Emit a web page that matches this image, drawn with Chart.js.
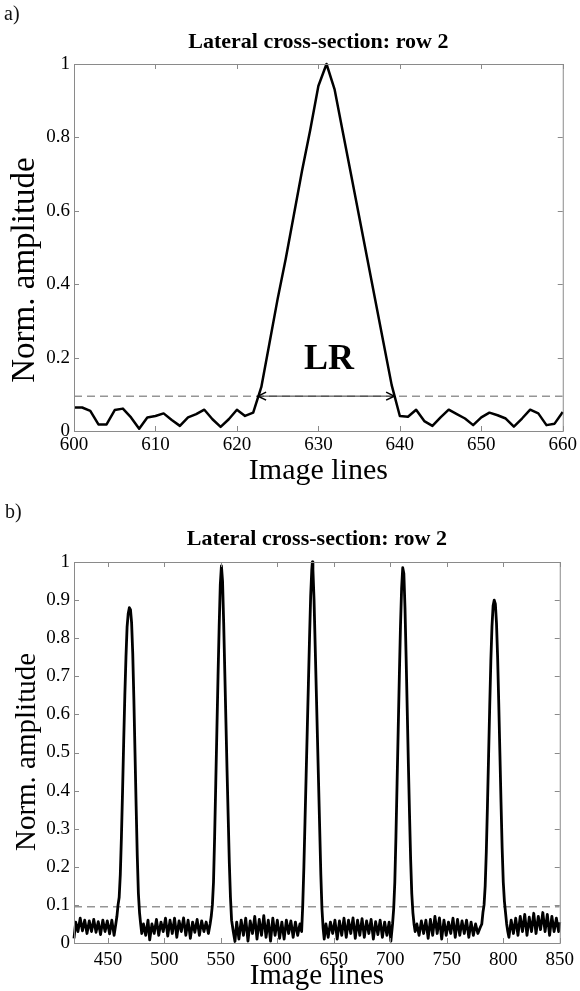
<!DOCTYPE html>
<html lang="en">
<head>
<meta charset="UTF-8">
<title>Lateral cross-section: row 2</title>
<script src="https://cdn.jsdelivr.net/npm/chart.js"></script>
<style>
  body { margin: 0; background: #fff; width: 580px; height: 991px; position: relative; overflow: hidden; font-family: "Liberation Serif", "Times New Roman", serif; }
  canvas { position: absolute; left: 0; }
  .panel-label { position: absolute; font-size: 20px; color: #111; line-height: 23px; }
</style>
</head>
<body>
<canvas id="chartA" width="580" height="491" style="top:0"></canvas>
<canvas id="chartB" width="580" height="500" style="top:491px"></canvas>
<div class="panel-label" style="left:4px; top:2px;">a)</div>
<div class="panel-label" style="left:5px; top:500px;">b)</div>

<script>
const serif = '"Liberation Serif", "Times New Roman", serif';
const chartTitle = 'Lateral cross-section: row 2';
const xTitle = 'Image lines';
const yTitle = 'Norm. amplitude';

// ---- panel a: one beam, lines 600..660 ----
const aLines = [600, 601, 602, 603, 604, 605, 606, 607, 608, 609,
                610, 611, 612, 613, 614, 615, 616, 617, 618, 619,
                620, 621, 622, 623, 624, 625, 626, 627, 628, 629,
                630, 631, 632, 633, 634, 635, 636, 637, 638, 639,
                640, 641, 642, 643, 644, 645, 646, 647, 648, 649,
                650, 651, 652, 653, 654, 655, 656, 657, 658, 659, 660];
const aAmp = [0.064, 0.064, 0.055, 0.018, 0.018, 0.057, 0.061, 0.037, 0.006, 0.037,
              0.041, 0.048, 0.030, 0.014, 0.037, 0.046, 0.058, 0.032, 0.011, 0.032,
              0.058, 0.041, 0.050, 0.120, 0.240, 0.360, 0.470, 0.590, 0.710, 0.820,
              0.940, 1.000, 0.930, 0.815, 0.700, 0.585, 0.470, 0.355, 0.240, 0.125,
              0.041, 0.039, 0.058, 0.027, 0.014, 0.037, 0.058, 0.046, 0.034, 0.016,
              0.037, 0.050, 0.043, 0.034, 0.012, 0.034, 0.058, 0.048, 0.016, 0.020, 0.052];
const aRange = [600, 660];
const aTicksX = 10;
const aTicksY = 0.2;

// -20 dB level and the lateral resolution marker
const threshold = 0.095;
const lrFrom = 622.6;
const lrTo = 639.3;
const lrText = 'LR';
const lrTextPos = [631.3, 0.195];

// ---- panel b: five beams, lines 420..850 ([line, amplitude]) ----
const bNoise1 = [[420, 0.012], [421.5, 0.055], [423.5, 0.03], [425.5, 0.065], [427.5, 0.032], [429.5, 0.06],
                 [431.5, 0.025], [433.5, 0.058], [435.5, 0.03], [437.5, 0.062], [439.5, 0.028], [441.5, 0.056],
                 [443.5, 0.022], [445.5, 0.06], [447.5, 0.03], [449.5, 0.058], [451.5, 0.024], [453.5, 0.06],
                 [455.5, 0.02], [457, 0.05]];
const bPeak1 = [[458, 0.07], [459, 0.1], [460, 0.12], [461, 0.18], [462, 0.28], [463, 0.4], [464, 0.53],
                [465, 0.65], [466, 0.75], [467, 0.83], [468, 0.865], [469, 0.88], [470, 0.875], [471, 0.84],
                [472, 0.76], [473, 0.64], [474, 0.5], [475, 0.36], [476, 0.23], [477, 0.13], [478, 0.08],
                [479, 0.05], [480, 0.025]];
const bNoise2 = [[481.5, 0.05], [483.5, 0.02], [485.5, 0.06], [487, 0.008], [489, 0.05], [491, 0.025],
                 [493, 0.062], [495, 0.02], [497, 0.055], [499, 0.03], [501, 0.065], [503, 0.018],
                 [505, 0.06], [507, 0.025], [509, 0.065], [511, 0.015], [513, 0.058], [515, 0.03],
                 [517, 0.066], [519, 0.02], [521, 0.06], [523, 0.012], [525, 0.055], [527, 0.028],
                 [529, 0.062], [531, 0.02], [533, 0.058], [535, 0.03], [537, 0.055], [539, 0.025], [540.5, 0.05]];
const bPeak2 = [[541.5, 0.07], [542.5, 0.1], [543.5, 0.16], [544.5, 0.28], [545.5, 0.42], [546.5, 0.56],
                [547.5, 0.7], [548.5, 0.83], [549.5, 0.94], [550.5, 0.99], [551.5, 0.95], [552.5, 0.84],
                [553.5, 0.71], [554.5, 0.58], [555.5, 0.45], [556.5, 0.33], [557.5, 0.21], [558.5, 0.12],
                [559.5, 0.06], [561, 0.03], [562.5, 0.004]];
const bNoise3 = [[564, 0.055], [566, 0.01], [568, 0.06], [570, 0.02], [572, 0.065], [574, 0.005],
                 [576, 0.058], [578, 0.025], [580, 0.07], [582, 0.01], [584, 0.062], [586, 0.02],
                 [588, 0.072], [590, 0.015], [592, 0.06], [594, 0.005], [596, 0.065], [598, 0.02],
                 [600, 0.06], [602, 0.012], [604, 0.055], [606, 0.01], [608, 0.06], [610, 0.025],
                 [612, 0.058], [614, 0.015], [616, 0.055], [618, 0.02], [620, 0.05], [621.5, 0.03]];
const bPeak3 = [[622.5, 0.1], [623.5, 0.2], [624.5, 0.32], [625.5, 0.44], [626.5, 0.56], [627.5, 0.68],
                [628.5, 0.8], [629.5, 0.91], [630.5, 0.98], [631, 1.0], [631.5, 0.98], [632.5, 0.9],
                [633.5, 0.78], [634.5, 0.66], [635.5, 0.54], [636.5, 0.42], [637.5, 0.3], [638.5, 0.18],
                [639.5, 0.09], [640.5, 0.04], [641.5, 0.01]];
const bNoise4 = [[643, 0.05], [645, 0.015], [647, 0.055], [649, 0.025], [651, 0.06], [653, 0.01],
                 [655, 0.058], [657, 0.02], [659, 0.065], [661, 0.015], [663, 0.06], [665, 0.025],
                 [667, 0.066], [669, 0.012], [671, 0.06], [673, 0.02], [675, 0.064], [677, 0.015],
                 [679, 0.058], [681, 0.025], [683, 0.062], [685, 0.01], [687, 0.056], [689, 0.022],
                 [691, 0.06], [693, 0.015], [695, 0.055], [697, 0.02], [699, 0.055], [700.5, 0.005]];
const bPeak4 = [[702, 0.05], [703, 0.09], [704, 0.16], [705, 0.28], [706, 0.42], [707, 0.56],
                [708, 0.7], [709, 0.83], [710, 0.93], [711, 0.985], [712, 0.97], [713, 0.88],
                [714, 0.75], [715, 0.61], [716, 0.47], [717, 0.34], [718, 0.22], [719, 0.13],
                [720, 0.08], [721, 0.05], [722, 0.03]];
const bNoise5 = [[723.5, 0.05], [725.5, 0.02], [727.5, 0.058], [729.5, 0.025], [731.5, 0.06], [733.5, 0.012],
                 [735.5, 0.062], [737.5, 0.02], [739.5, 0.07], [741.5, 0.025], [743.5, 0.066], [745.5, 0.01],
                 [747.5, 0.06], [749.5, 0.02], [751.5, 0.055], [753.5, 0.025], [755.5, 0.065], [757.5, 0.015],
                 [759.5, 0.062], [761.5, 0.02], [763.5, 0.058], [765.5, 0.025], [767.5, 0.06], [769.5, 0.015],
                 [771.5, 0.055], [773.5, 0.02], [775.5, 0.05], [777.5, 0.025], [779.5, 0.04], [781, 0.05]];
const bPeak5 = [[782, 0.08], [783, 0.1], [784, 0.15], [785, 0.24], [786, 0.36], [787, 0.49], [788, 0.62],
                [789, 0.74], [790, 0.83], [791, 0.885], [792, 0.9], [793, 0.89], [794, 0.84], [795, 0.75],
                [796, 0.63], [797, 0.5], [798, 0.37], [799, 0.25], [800, 0.16], [801, 0.11], [802, 0.08],
                [803, 0.05], [804, 0.03]];
const bNoise6 = [[805, 0.015], [807, 0.06], [809, 0.025], [811, 0.065], [813, 0.02], [815, 0.07],
                 [817, 0.03], [819, 0.075], [821, 0.02], [823, 0.068], [825, 0.03], [827, 0.078],
                 [829, 0.025], [831, 0.07], [833, 0.035], [835, 0.08], [837, 0.03], [839, 0.075],
                 [841, 0.02], [843, 0.07], [845, 0.03], [847, 0.065], [849, 0.03], [850, 0.055]];
const bRange = [420, 850];
const bTicksX = 50;
const bTicksY = 0.1;

Chart.defaults.font.family = serif;
Chart.defaults.color = '#000';

// MATLAB-like box with inward ticks on all four sides
const framePlugin = {
    id: 'frame',
    afterDatasetsDraw(chart) {
        const { ctx, chartArea: { left, top, right, bottom }, scales: { x, y } } = chart;
        ctx.save();
        ctx.strokeStyle = '#8a8a8a';
        ctx.lineWidth = 1;
        ctx.strokeRect(left + 0.5, top + 0.5, right - left, bottom - top);
        ctx.beginPath();
        x.ticks.forEach(t => {
            const px = Math.round(x.getPixelForValue(t.value)) + 0.5;
            ctx.moveTo(px, bottom); ctx.lineTo(px, bottom - 5);
            ctx.moveTo(px, top); ctx.lineTo(px, top + 5);
        });
        y.ticks.forEach(t => {
            const py = Math.round(y.getPixelForValue(t.value)) + 0.5;
            ctx.moveTo(left, py); ctx.lineTo(left + 5, py);
            ctx.moveTo(right, py); ctx.lineTo(right - 5, py);
        });
        ctx.stroke();
        ctx.restore();
    }
};

// rotated y axis label, placed like the MATLAB ylabel
const yLabelPlugin = {
    id: 'yLabel',
    afterDraw(chart, args, o) {
        const { ctx } = chart;
        ctx.save();
        ctx.translate(o.x, o.y);
        ctx.rotate(-Math.PI / 2);
        ctx.fillStyle = '#000';
        ctx.font = o.size + 'px ' + serif;
        ctx.textAlign = 'center';
        ctx.textBaseline = 'middle';
        ctx.fillText(yTitle, 0, 0);
        ctx.restore();
    }
};

// arrowheads and label of the LR marker (panel a only)
const lrPlugin = {
    id: 'lrMark',
    afterDatasetsDraw(chart, args, o) {
        const { ctx, scales: { x, y } } = chart;
        const x1 = x.getPixelForValue(o.from), x2 = x.getPixelForValue(o.to);
        const py = y.getPixelForValue(o.level);
        ctx.save();
        ctx.strokeStyle = '#000';
        ctx.lineWidth = 1.6;
        ctx.beginPath();
        ctx.moveTo(x1 + 8, py - 4); ctx.lineTo(x1, py); ctx.lineTo(x1 + 8, py + 4);
        ctx.moveTo(x2 - 8, py - 4); ctx.lineTo(x2, py); ctx.lineTo(x2 - 8, py + 4);
        ctx.stroke();
        ctx.fillStyle = '#000';
        ctx.font = 'bold 36px ' + serif;
        ctx.textAlign = 'center';
        ctx.textBaseline = 'middle';
        ctx.fillText(o.text, x.getPixelForValue(o.pos[0]), y.getPixelForValue(o.pos[1]));
        ctx.restore();
    }
};

function makeOptions(o) {
    return {
        responsive: false,
        animation: false,
        devicePixelRatio: 1,
        layout: { padding: { left: 0, right: 17, top: 0, bottom: 0 } },
        plugins: {
            legend: { display: false },
            tooltip: { enabled: false },
            title: {
                display: true,
                text: chartTitle,
                fullSize: false,
                color: '#000',
                font: { family: serif, size: 22, weight: 'bold', lineHeight: 1.2 },
                padding: { top: o.titleTop, bottom: o.titleBottom }
            },
            yLabel: o.yLabel,
            lrMark: o.lr
        },
        scales: {
            x: {
                type: 'linear',
                min: o.range[0],
                max: o.range[1],
                grid: { display: false, drawTicks: false },
                border: { display: false },
                ticks: { stepSize: o.stepX, includeBounds: false, autoSkip: false, maxRotation: 0,
                         padding: o.xTickPad, font: { size: 19 }, color: '#000' },
                title: { display: true, text: xTitle, color: '#000',
                         font: { size: o.xTitleSize, lineHeight: 1 }, padding: { top: 0, bottom: o.xTitlePad } },
                afterFit: s => { s.height = o.xHeight; }
            },
            y: {
                min: 0,
                max: 1,
                grid: { display: false, drawTicks: false },
                border: { display: false },
                ticks: { stepSize: o.stepY, padding: 4, font: { size: 19 }, color: '#000',
                         callback: v => String(+v.toFixed(1)) },
                afterFit: s => { s.width = 74; }
            }
        }
    };
}

const lineStyle = { borderColor: '#000', pointRadius: 0, tension: 0, fill: false,
                    borderJoinStyle: 'round', clip: 3, order: 1 };
const dashStyle = { borderColor: '#959595', borderWidth: 1.5, borderDash: [8, 5], pointRadius: 0, order: 3 };

// panel a
new Chart(document.getElementById('chartA'), {
    type: 'line',
    data: {
        datasets: [
            Object.assign({ data: [{ x: aRange[0], y: threshold }, { x: aRange[1], y: threshold }] }, dashStyle),
            Object.assign({ data: aLines.map((v, i) => ({ x: v, y: aAmp[i] })), borderWidth: 2.5 }, lineStyle),
            { data: [{ x: lrFrom, y: threshold }, { x: lrTo, y: threshold }], borderColor: '#333',
              borderWidth: 1, pointRadius: 0, order: 0 }
        ]
    },
    options: makeOptions({
        range: aRange, stepX: aTicksX, stepY: aTicksY,
        titleTop: 29, titleBottom: 8.6,
        xHeight: 60, xTickPad: 3, xTitleSize: 30, xTitlePad: 5,
        yLabel: { x: 25, y: 270, size: 33 },
        lr: { from: lrFrom, to: lrTo, level: threshold, text: lrText, pos: lrTextPos }
    }),
    plugins: [framePlugin, lrPlugin, yLabelPlugin]
});

// panel b
const bData = [].concat(bNoise1, bPeak1, bNoise2, bPeak2, bNoise3, bPeak3,
                        bNoise4, bPeak4, bNoise5, bPeak5, bNoise6).map(p => ({ x: p[0], y: p[1] }));
new Chart(document.getElementById('chartB'), {
    type: 'line',
    data: {
        datasets: [
            Object.assign({ data: [{ x: bRange[0], y: threshold }, { x: bRange[1], y: threshold }] }, dashStyle),
            Object.assign({ data: bData, borderWidth: 2.8 }, lineStyle)
        ]
    },
    options: makeOptions({
        range: bRange, stepX: bTicksX, stepY: bTicksY,
        titleTop: 35, titleBottom: 9.6,
        xHeight: 48, xTickPad: 6, xTitleSize: 29, xTitlePad: 0,
        yLabel: { x: 27, y: 261, size: 29 }
    }),
    plugins: [framePlugin, yLabelPlugin]
});
</script>
</body>
</html>
